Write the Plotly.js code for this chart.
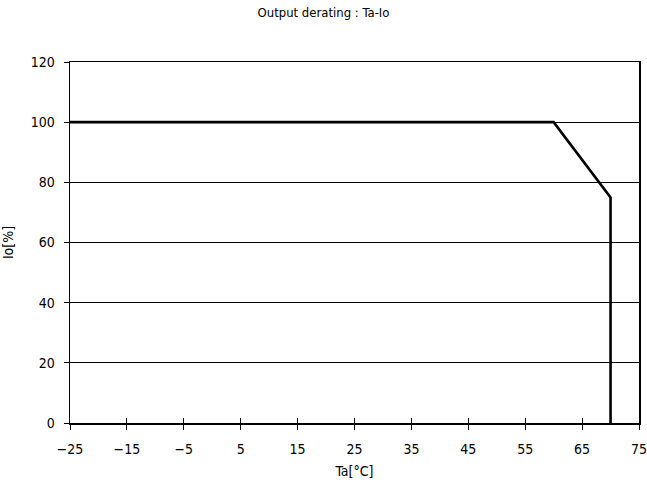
<!DOCTYPE html>
<html><head><meta charset="utf-8">
<script src="https://cdn.plot.ly/plotly-3.0.1.min.js"></script>
<style>html,body{margin:0;padding:0;background:#fff}#c{width:647px;height:486px}</style>
</head><body><div id="c"></div>
<script>
const ta = [-25, 60, 70, 70];
const io = [100, 100, 75, 0];
const xTicks = [-25, -15, -5, 5, 15, 25, 35, 45, 55, 65, 75];
const yTicks = [0, 20, 40, 60, 80, 100, 120];
const F = "'DejaVu Sans Condensed', 'Liberation Sans Narrow', 'Liberation Sans', sans-serif";

const data = [
  {x: ta, y: io, type: 'scatter', mode: 'lines', line: {color: '#000', width: 2.6}, showlegend: false, hoverinfo: 'skip'},
  {x: [], y: [], xaxis: 'x2', yaxis: 'y2', showlegend: false}
];
const axBase = {linecolor: '#000', linewidth: 1.5, mirror: true, zeroline: false, color: '#000'};
const layout = {
  width: 647, height: 486,
  margin: {l: 70, r: 8, t: 62, b: 63},
  paper_bgcolor: '#fff', plot_bgcolor: '#fff',
  font: {family: F, size: 14, color: '#000'},
  title: {text: 'Output derating : Ta-Io', x: 0.5, xanchor: 'center', y: 0.975, yanchor: 'middle', font: {family: F, size: 13, color: '#000'}},
  xaxis: Object.assign({}, axBase, {range: [-25, 75], tickvals: xTicks, ticktext: xTicks.map(v => v < 0 ? '\u2212' + Math.abs(v) : String(v)), ticks: 'outside', ticklen: 5, tickwidth: 1, tickcolor: '#000', showgrid: false,
    ticklabeloverflow: 'allow', ticklabelstandoff: 8, title: {text: 'Ta[\u00B0C]', standoff: 10, font: {family: F, size: 14}}}),
  yaxis: Object.assign({}, axBase, {range: [0, 120], tickvals: yTicks, ticks: 'outside', ticklen: 5, tickwidth: 1, tickcolor: '#000', showgrid: true, gridcolor: '#000', gridwidth: 1,
    ticklabelstandoff: 6, title: {text: 'Io[%]', standoff: 14, font: {family: F, size: 14}}}),
  xaxis2: {overlaying: 'x', anchor: 'y2', range: [-25, 75], tickvals: xTicks, ticks: 'inside', ticklen: 5, tickwidth: 1, tickcolor: '#000', showticklabels: false, showgrid: false, zeroline: false, showline: false},
  yaxis2: {overlaying: 'y', anchor: 'x2', range: [0, 120], tickvals: yTicks, ticks: 'inside', ticklen: 5, tickwidth: 1, tickcolor: '#000', showticklabels: false, showgrid: false, zeroline: false, showline: false}
};
Plotly.newPlot('c', data, layout, {displayModeBar: false, staticPlot: true});
</script></body></html>
